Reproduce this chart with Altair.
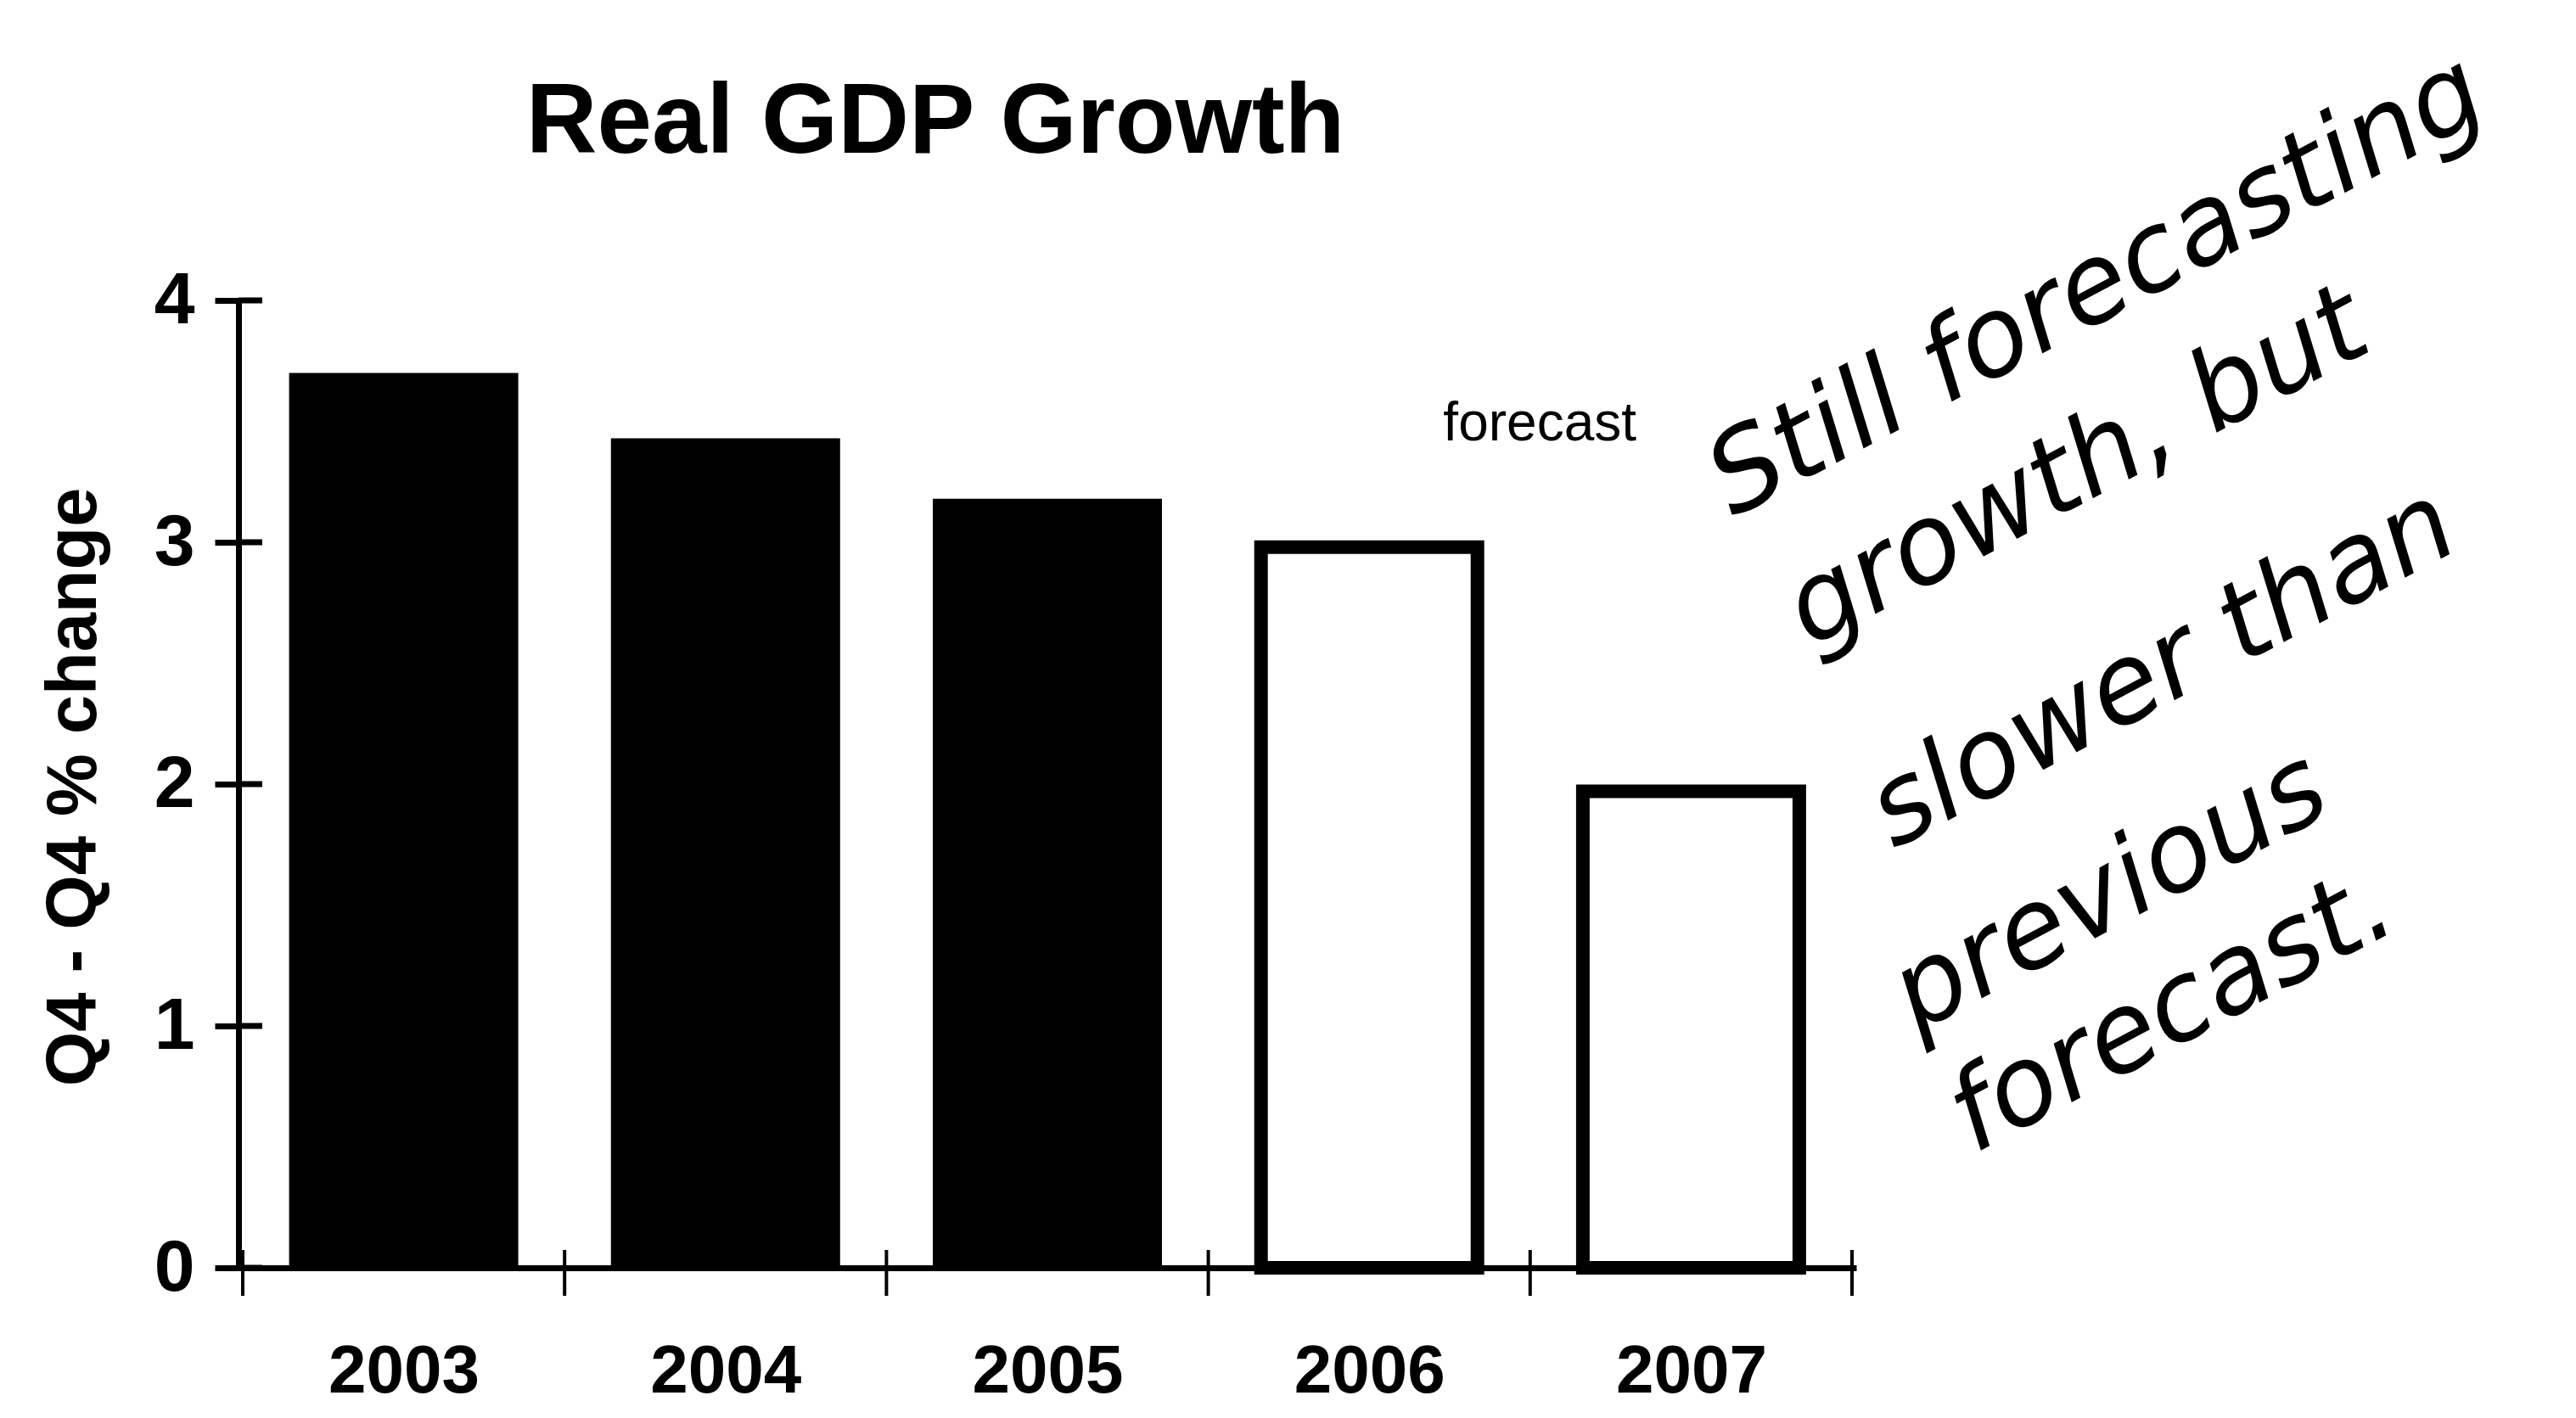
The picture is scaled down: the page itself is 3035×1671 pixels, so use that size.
import altair as alt
import pandas as pd

# ---- data ----
years = [2003, 2004, 2005, 2006, 2007]
growth = [3.70, 3.43, 3.18, 2.98, 1.97]
kind = ["actual", "actual", "actual", "forecast", "forecast"]
y_ticks = [0, 1, 2, 3, 4]
x_bounds = [2002.5, 2003.5, 2004.5, 2005.5, 2006.5, 2007.5]

title_text = ["Real GDP Growth"]
title_x = [2003.38]
title_y = [4.61]

forecast_label = ["forecast"]
forecast_x = [2006.53]
forecast_y = [3.42]

note_lines = ["Still forecasting", "growth, but", "slower than", "previous", "forecast."]
note_x = [2007.13, 2007.37, 2007.63, 2007.70, 2007.88]
note_y = [3.10, 2.56, 1.73, 0.97, 0.47]

# ---- layout ----
W, H = 1906, 1140
FONT = "Liberation Sans"

bars = pd.DataFrame({"yr": years, "growth": growth, "kind": kind})
actual = bars[bars["kind"] == "actual"]
fcast = bars[bars["kind"] == "forecast"]
ticks_df = pd.DataFrame({"growth": y_ticks})
bounds_df = pd.DataFrame({"yr": x_bounds})
title_df = pd.DataFrame({"label": title_text, "yr": title_x, "growth": title_y})
fl_df = pd.DataFrame({"label": forecast_label, "yr": forecast_x, "growth": forecast_y})
notes_df = pd.DataFrame({"line": note_lines, "yr": note_x, "growth": note_y})

xscale = alt.Scale(domain=[2002.5, 2007.5], nice=False, zero=False)
yscale = alt.Scale(domain=[0, 4], nice=False, zero=True)

x_axis = alt.Axis(
    values=years, format="d", ticks=False, labelFlush=False,
    domainWidth=7, domainColor="black", grid=False,
    labelFont=FONT, labelFontSize=80, labelFontWeight="bold", labelColor="black",
    labelPadding=83, labelAngle=0, labelBaseline="top", title=None,
)
y_axis = alt.Axis(
    values=y_ticks, format="d", tickSize=28, tickWidth=7, tickColor="black",
    domainWidth=7, domainColor="black", grid=False,
    labelFont=FONT, labelFontSize=86, labelFontWeight="bold", labelColor="black",
    labelPadding=24,
    title="Q4 - Q4 % change", titleFont=FONT, titleFontSize=83,
    titleFontWeight="bold", titleColor="black", titleAngle=270,
    titleX=-169, titleY=573, titleAlign="center", titleBaseline="alphabetic",
)

# the same encodings (and axes) are used by every layer so the shared axes merge
X = alt.X("yr:Q", scale=xscale, axis=x_axis, title=None)
Y = alt.Y("growth:Q", scale=yscale, axis=y_axis, title="Q4 - Q4 % change")

filled = alt.Chart(actual).mark_bar(size=270, color="black").encode(x=X, y=Y)

hollow = alt.Chart(fcast).mark_bar(
    size=255, fill="white", stroke="black", strokeWidth=16
).encode(x=X, y=Y)

x_ticks = alt.Chart(bounds_df).mark_rule(color="black", strokeWidth=4).encode(
    x=X, y=alt.value(H - 21), y2=alt.value(H + 33),
)
y_inner = alt.Chart(ticks_df).mark_rule(color="black", strokeWidth=7).encode(
    y=Y, x=alt.value(0), x2=alt.value(28),
)

title_mark = alt.Chart(title_df).mark_text(
    font=FONT, fontSize=116, fontWeight="bold", align="left",
    baseline="alphabetic", color="black"
).encode(x=X, y=Y, text="label:N")

fl_text = alt.Chart(fl_df).mark_text(
    font=FONT, fontSize=64, align="center", baseline="alphabetic", color="black"
).encode(x=X, y=Y, text="label:N")

notes = alt.Chart(notes_df).mark_text(
    font="DejaVu Sans", fontSize=130, fontStyle="italic", fontWeight=200,
    align="left", baseline="alphabetic", angle=332, color="black"
).encode(x=X, y=Y, text="line:N")

chart = alt.layer(
    filled, hollow, x_ticks, y_inner, title_mark, fl_text, notes
).properties(
    width=W, height=H,
    autosize=alt.AutoSizeParams(type="none"),
    padding={"left": 273, "top": 346, "right": 840, "bottom": 169},
    background="white",
).configure_view(stroke=None)

chart.save("out.html", embed_options={"renderer": "svg", "actions": False})
